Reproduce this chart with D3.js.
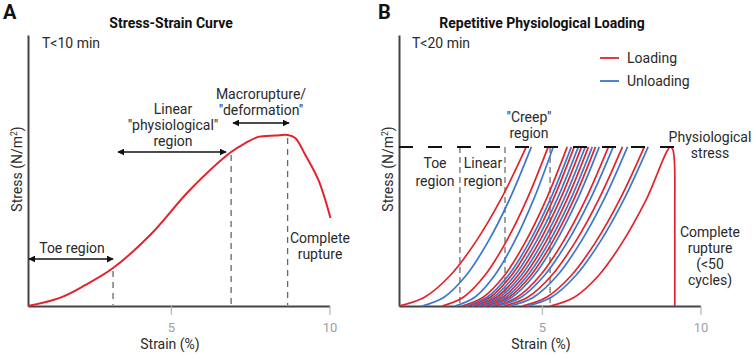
<!DOCTYPE html>
<html>
<head>
<meta charset="utf-8">
<script src="https://cdn.jsdelivr.net/npm/d3@7"></script>
<style>
  body { margin: 0; background: #fff; }
  svg { font-family: Roboto, "Noto Sans", sans-serif; }
</style>
</head>
<body>
<svg id="chart" width="754" height="358"></svg>
<script>
// ---- panel A : stress-strain curve (strain %, stress arbitrary 0-100)
const curveStrain = [0.5, 1.5, 2.3, 3.18, 4.35, 5.6, 6.9, 7.35, 7.76, 8.3, 8.68, 8.92, 9.24, 9.65, 10.03];
const curveStress = [0, 3, 7.7, 14, 26.2, 42.8, 56.8, 60.1, 62.4, 62.9, 63.1, 62, 55.7, 46.5, 32.5];
const markerStrain = [3.18, 6.9, 8.68];          // dashed guide lines
const xTicks = [5, 10];

// ---- panel B : repetitive loading cycles
const physioStress = 58.7;
// normalised shape of one loading/unloading curve (fraction of width, fraction of stress)
const shapeX = [0, 0.2, 0.4, 0.6, 0.8, 1];
const shapeY = [0, 0.055, 0.19, 0.4, 0.67, 1];
const cycleType  = ["load","unload","load","unload","load","unload","load","unload","load","unload",
                    "load","unload","load","unload","load","unload","load","unload","load","unload","load"];
const cycleStart = [0.50, 1.23, 1.86, 2.27, 2.49, 2.61, 2.71, 2.80, 2.90, 2.99,
                    3.09, 3.18, 3.28, 3.37, 3.50, 3.62, 3.81, 4.00, 4.38, 4.54, 5.27];
const cycleEnd   = [4.51, 4.67, 5.20, 5.36, 5.80, 5.93, 6.02, 6.15, 6.25, 6.37,
                    6.47, 6.59, 6.69, 6.81, 7.10, 7.25, 7.54, 7.70, 8.23, 8.35, 9.05];
const ruptureStrain = [9.05, 9.13, 9.18, 9.19, 9.19];
const ruptureStress = [58.7, 57.6, 53, 35, 0];
const regionStrain = [2.42, 3.84, 5.26];          // dashed region borders

const red = "#e3232b", blue = "#3a78cc", ink = "#2a2a2a";
const svg = d3.select("#chart");

function panel(ox) {
  const g = svg.append("g").attr("transform", `translate(${ox},0)`);
  const x = d3.scaleLinear().domain([0.5, 10]).range([28, 329.5]);
  const y = d3.scaleLinear().domain([0, 100]).range([306, 35]);

  const xa = g.append("g").attr("transform", "translate(0,306)")
    .call(d3.axisBottom(x).tickValues(xTicks).tickSize(9).tickSizeOuter(0).tickPadding(8));
  xa.select(".domain").attr("stroke", "#444").attr("stroke-width", 2);
  xa.selectAll(".tick line").attr("stroke", "#b5b5b5").attr("stroke-width", 1.2);
  xa.selectAll(".tick text").attr("fill", "#a0a0a0").attr("font-size", 13)
    .attr("font-family", "Roboto, sans-serif");

  const ya = g.append("g").attr("transform", "translate(28,0)")
    .call(d3.axisLeft(y).tickValues([]).tickSizeOuter(0));
  ya.select(".domain").attr("stroke", "#444").attr("stroke-width", 2);

  g.append("text").attr("x", 170).attr("y", 349).attr("text-anchor", "middle")
    .attr("font-size", 14).attr("fill", ink).text("Strain (%)");
  const yl = g.append("text").attr("transform", "translate(22,169) rotate(-90)")
    .attr("text-anchor", "middle").attr("font-size", 14).attr("fill", ink);
  yl.append("tspan").text("Stress (N/m");
  yl.append("tspan").attr("font-size", 8.5).attr("dy", -5).text("2");
  yl.append("tspan").attr("dy", 5).text(")");
  return {g, x, y};
}

function label(g, lines, cx, y0, step, anchor) {
  lines.forEach((t, i) => {
    g.append("text").attr("x", cx).attr("y", y0 + i * step)
      .attr("text-anchor", anchor || "middle").attr("font-size", 14).attr("fill", ink).text(t);
  });
}

// arrow marker
const defs = svg.append("defs");
defs.append("marker").attr("id", "arr").attr("viewBox", "0 0 10 10")
  .attr("refX", 9).attr("refY", 5).attr("markerWidth", 7).attr("markerHeight", 7)
  .attr("orient", "auto-start-reverse").attr("markerUnits", "userSpaceOnUse")
  .append("path").attr("d", "M0,0 L10,5 L0,10 z").attr("fill", "#111");
function arrow(g, x1, x2, yy) {
  g.append("line").attr("x1", x1).attr("x2", x2).attr("y1", yy).attr("y2", yy)
    .attr("stroke", "#111").attr("stroke-width", 1.5)
    .attr("marker-start", "url(#arr)").attr("marker-end", "url(#arr)");
}

// ===== Panel A
{
  const {g, x, y} = panel(0);
  g.append("text").attr("x", 3).attr("y", 19).attr("font-size", 20).attr("font-weight", "bold").attr("fill", "#111").text("A");
  g.append("text").attr("x", 171).attr("y", 28).attr("text-anchor", "middle")
    .attr("font-size", 14).attr("font-weight", "bold").attr("fill", "#111").text("Stress-Strain Curve");
  label(g, ["T<10 min"], 42, 48, 0, "start");

  const pts = curveStrain.map((s, i) => [x(s), y(curveStress[i])]);
  markerStrain.forEach(s => {
    const i = curveStrain.indexOf(s);
    g.append("line").attr("x1", x(s)).attr("x2", x(s)).attr("y1", y(curveStress[i]) + 3).attr("y2", 305)
      .attr("stroke", "#666").attr("stroke-width", 1.3).attr("stroke-dasharray", "6,5");
  });
  g.append("path").attr("d", d3.line().curve(d3.curveCatmullRom.alpha(0.5))(pts))
    .attr("fill", "none").attr("stroke", red).attr("stroke-width", 2);

  arrow(g, x(0.53), x(markerStrain[0]), 259);
  label(g, ["Toe region"], 72, 253, 0);
  arrow(g, 118, 226, 152);
  label(g, ["Linear", "\"physiological\"", "region"], 173, 114, 16);
  arrow(g, 233, 289, 123);
  label(g, ["Macrorupture/", "\"deformation\""], 261, 99, 15.5);
  label(g, ["Complete", "rupture"], 320, 243, 15.5);
}

// ===== Panel B
{
  const {g, x, y} = panel(371);
  g.append("text").attr("x", 7).attr("y", 19).attr("font-size", 20).attr("font-weight", "bold").attr("fill", "#111").text("B");
  g.append("text").attr("x", 171).attr("y", 28).attr("text-anchor", "middle")
    .attr("font-size", 14).attr("font-weight", "bold").attr("fill", "#111").text("Repetitive Physiological Loading");
  label(g, ["T<20 min"], 41, 48, 0, "start");

  // legend
  [["Loading", red, 58], ["Unloading", blue, 81]].forEach(([t, c, yy]) => {
    g.append("line").attr("x1", 229).attr("x2", 248).attr("y1", yy).attr("y2", yy)
      .attr("stroke", c).attr("stroke-width", 1.8);
    g.append("text").attr("x", 256).attr("y", yy + 5).attr("font-size", 14).attr("fill", ink).text(t);
  });

  const yp = y(physioStress);
  regionStrain.forEach(s => {
    g.append("line").attr("x1", x(s)).attr("x2", x(s)).attr("y1", yp).attr("y2", 305)
      .attr("stroke", "#666").attr("stroke-width", 1.2).attr("stroke-dasharray", "6,4");
  });

  const line = d3.line().curve(d3.curveCatmullRom.alpha(0.5));
  cycleType.forEach((t, i) => {
    const s0 = cycleStart[i], s1 = cycleEnd[i];
    let pts = shapeX.map((f, j) => [x(s0 + f * (s1 - s0)), y(shapeY[j] * physioStress)]);
    if (i == cycleType.length - 1) {
      pts = pts.concat(ruptureStrain.slice(1).map((s, j) => [x(s), y(ruptureStress[j + 1])]));
    }
    g.append("path").attr("d", line(pts)).attr("fill", "none")
      .attr("stroke", t == "load" ? red : blue).attr("stroke-width", 1.7);
  });

  g.append("line").attr("x1", 28).attr("x2", 314).attr("y1", yp).attr("y2", yp)
    .attr("stroke", "#111").attr("stroke-width", 2).attr("stroke-dasharray", "14,15");

  label(g, ["\"Creep\"", "region"], 158, 122, 15.5);
  label(g, ["Physiological", "stress"], 339, 142, 16);
  label(g, ["Toe", "region"], 64, 168, 18);
  label(g, ["Linear", "region"], 112, 168, 18);
  label(g, ["Complete", "rupture", "(<50", "cycles)"], 339, 237, 16);
}
</script>
</body>
</html>
